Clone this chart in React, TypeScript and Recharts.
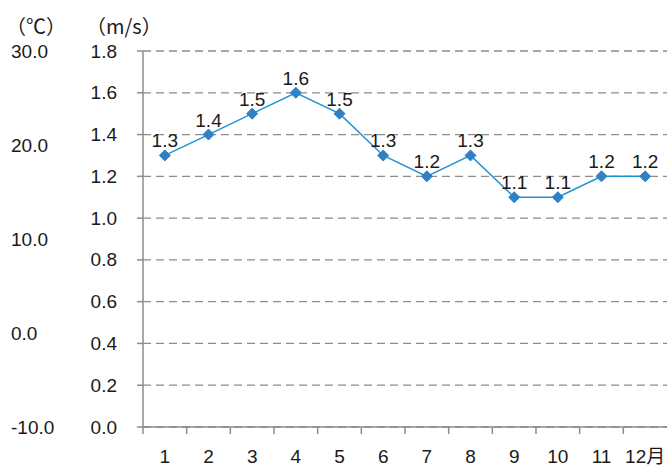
import React from 'react';
import { LineChart, Line, XAxis, YAxis, CartesianGrid, LabelList } from 'recharts';

const months = ['1', '2', '3', '4', '5', '6', '7', '8', '9', '10', '11', '12月'];
const windSpeed = [1.3, 1.4, 1.5, 1.6, 1.5, 1.3, 1.2, 1.3, 1.1, 1.1, 1.2, 1.2];
const msTicks = [0, 0.2, 0.4, 0.6, 0.8, 1.0, 1.2, 1.4, 1.6, 1.8];
const cTicks = [-10, 0, 10, 20, 30];

const data = months.map((m, i) => ({ month: m, speed: windSpeed[i] }));

const FONT = '"Liberation Sans", "Noto Sans CJK SC", sans-serif';
const AXIS_COLOR = '#8c8c8c';
const TEXT_COLOR = '#1a1a1a';

const MsTick = (props: any) => {
  const { y, payload } = props;
  return (
    <g>
      <line x1={137} x2={143} y1={y} y2={y} stroke={AXIS_COLOR} strokeWidth={1.5} />
      <text x={117} y={y} textAnchor="end" dominantBaseline="central" fontSize={19} fill={TEXT_COLOR} fontFamily={FONT}>
        {Number(payload.value).toFixed(1)}
      </text>
    </g>
  );
};

const CTick = (props: any) => {
  const { y, payload } = props;
  return (
    <text x={11} y={y} textAnchor="start" dominantBaseline="central" fontSize={19} fill={TEXT_COLOR} fontFamily={FONT}>
      {Number(payload.value).toFixed(1)}
    </text>
  );
};

const XTick = (props: any) => {
  const { x, payload } = props;
  const bw = 524 / 12;
  const left = x - bw / 2;
  return (
    <g>
      <line x1={left} x2={left} y1={427} y2={434} stroke={AXIS_COLOR} strokeWidth={1.5} />
      <text x={x} y={456} textAnchor="middle" dominantBaseline="central" fontSize={19} fill={TEXT_COLOR} fontFamily={FONT}>
        {payload.value}
      </text>
    </g>
  );
};

const Diamond = (props: any) => {
  const { cx, cy } = props;
  if (cx == null || cy == null) return null;
  const r = 5.5;
  return (
    <polygon
      points={`${cx},${cy - r} ${cx + r},${cy} ${cx},${cy + r} ${cx - r},${cy}`}
      fill="#2f80c4"
      stroke="#2f80c4"
    />
  );
};

export default function App() {
  return (
    <div style={{ position: 'absolute', left: 0, top: 0, width: 667, height: 466, background: '#fff' }}>
      <LineChart width={667} height={466} data={data} margin={{ top: 51, right: 0, bottom: 9, left: 0 }}>
        <CartesianGrid vertical={false} stroke={AXIS_COLOR} strokeDasharray="8 5" strokeWidth={1.3} yAxisId="a" />
        <XAxis
          dataKey="month"
          scale="band"
          axisLine={{ stroke: AXIS_COLOR, strokeWidth: 1.5 }}
          tickLine={false}
          tick={<XTick />}
          height={30}
          interval={0}
        />
        <YAxis
          yAxisId="a"
          type="number"
          domain={[0, 1.8]}
          ticks={msTicks}
          width={53}
          axisLine={{ stroke: AXIS_COLOR, strokeWidth: 1.5 }}
          tickLine={false}
          tick={<MsTick />}
          interval={0}
        />
        <YAxis
          yAxisId="z"
          type="number"
          domain={[-10, 30]}
          ticks={cTicks}
          allowDataOverflow
          width={90}
          axisLine={false}
          tickLine={false}
          tick={<CTick />}
          interval={0}
        />
        <Line
          yAxisId="a"
          type="linear"
          dataKey="speed"
          stroke="#1f93d3"
          strokeWidth={1.5}
          dot={<Diamond />}
          activeDot={false}
          isAnimationActive={false}
        >
          <LabelList
            dataKey="speed"
            position="top"
            offset={8}
            fontSize={19}
            fill={TEXT_COLOR}
            fontFamily={FONT}
            formatter={(v: any) => Number(v).toFixed(1)}
          />
        </Line>
      </LineChart>
      <div style={{ position: 'absolute', left: 6, top: 12, fontSize: 20, fontFamily: '"Noto Sans CJK SC", sans-serif', color: TEXT_COLOR, lineHeight: '28px', whiteSpace: 'nowrap' }}>
        （℃）
      </div>
      <div style={{ position: 'absolute', left: 86, top: 12, fontSize: 20, fontFamily: '"Noto Sans CJK SC", sans-serif', color: TEXT_COLOR, lineHeight: '28px', whiteSpace: 'nowrap' }}>
        （m/s）
      </div>
    </div>
  );
}
